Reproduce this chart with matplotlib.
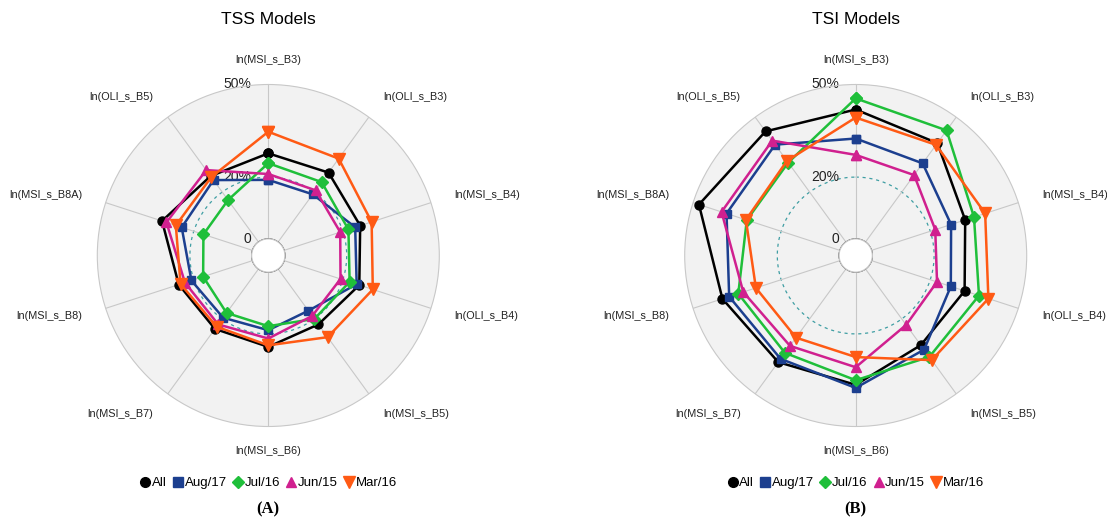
import numpy as np
import matplotlib
matplotlib.use("Agg")
import matplotlib.pyplot as plt
from matplotlib.lines import Line2D
from matplotlib.patches import Circle

# spoke labels, clockwise from the top
band_labels = ['ln(MSI_s_B3)', 'ln(OLI_s_B3)', 'ln(MSI_s_B4)', 'ln(OLI_s_B4)',
               'ln(MSI_s_B5)', 'ln(MSI_s_B6)', 'ln(MSI_s_B7)', 'ln(MSI_s_B8)',
               'ln(MSI_s_B8A)', 'ln(OLI_s_B5)']

series_names = ['All', 'Aug/17', 'Jul/16', 'Jun/15', 'Mar/16']

# TSS models (%)
tss_all = [27.7, 27.8, 25.9, 25.6, 22.2, 24.2, 24.0, 25.1, 30.8, 26.4]
tss_aug17 = [19.1, 19.1, 24.2, 24.7, 16.7, 18.8, 19.5, 20.8, 24.1, 24.8]
tss_jul16 = [24.5, 24.0, 21.9, 22.3, 20.0, 17.5, 17.6, 16.8, 16.7, 16.8]
tss_jun15 = [21.0, 20.7, 19.1, 19.2, 18.8, 21.5, 22.2, 23.0, 29.3, 28.8]
tss_mar16 = [34.7, 33.4, 29.8, 30.2, 27.3, 23.7, 23.1, 24.5, 26.1, 26.0]

# TSI models (%)
tsi_all = [41.9, 39.6, 31.9, 31.7, 30.5, 36.5, 37.3, 40.0, 48.0, 44.3]
tsi_aug17 = [32.5, 31.5, 27.1, 27.0, 32.3, 37.5, 36.0, 37.7, 38.6, 39.0]
tsi_jul16 = [45.5, 44.7, 34.9, 36.6, 35.2, 35.0, 33.6, 34.6, 31.7, 31.8]
tsi_jun15 = [27.2, 26.8, 21.7, 22.3, 22.4, 30.8, 30.8, 32.9, 40.3, 40.6]
tsi_mar16 = [39.3, 38.9, 38.7, 39.8, 36.5, 27.5, 27.5, 28.6, 32.0, 32.5]

colors = ['#000000', '#1c3f8f', '#1fbf3a', '#d0208f', '#ff5a14']
markers = ['o', 's', 'D', '^', 'v']
msizes = [6.5, 6.2, 6.0, 7.0, 8.0]

plt.rcParams['font.family'] = ['Liberation Sans', 'DejaVu Sans']

fig = plt.figure(figsize=(11.07, 5.21), dpi=100)

R_MAX = 50
R_ORIGIN = -5.4
GRID = '#c8c8c8'
n = len(band_labels)
theta = np.arange(n) * 2 * np.pi / n


def radar(rect, title, data, tag):
    ax = fig.add_axes(rect, projection='polar')
    ax.set_theta_zero_location('N')
    ax.set_theta_direction(-1)
    ax.set_ylim(0, R_MAX)
    ax.set_rorigin(R_ORIGIN)
    ax.set_facecolor('#f2f2f2')
    ax.spines['polar'].set_color(GRID)
    ax.spines['polar'].set_linewidth(0.8)
    ax.spines['inner'].set_visible(False)

    ax.set_xticks(theta)
    ax.set_xticklabels([])
    ax.set_yticks([])
    ax.xaxis.grid(True, color=GRID, linewidth=0.8)
    ax.yaxis.grid(False)

    # hollow centre at the zero ring
    hole = 0.5 * (0 - R_ORIGIN) / (R_MAX - R_ORIGIN)
    ax.add_patch(Circle((0.5, 0.5), hole, transform=ax.transAxes,
                        facecolor='white', edgecolor=GRID, lw=0.9,
                        zorder=2.6, clip_on=False))

    ring = np.linspace(0, 2 * np.pi, 361)
    ax.plot(ring, np.full_like(ring, 20), color='#3f9ea3', lw=0.9,
            ls=(0, (2.5, 3)), zorder=1)

    for val, txt in [(50, '50%'), (20, '20%'), (0, '0')]:
        ax.annotate(txt, xy=(0, val), xytext=(-12, 0), textcoords='offset points',
                    ha='right', va='center', fontsize=10, color='#222222',
                    zorder=2)

    for i, lab in enumerate(band_labels):
        ang = theta[i]
        s = np.sin(ang)
        if abs(s) < 1e-6:
            ha = 'center'
        elif s > 0:
            ha = 'left'
        else:
            ha = 'right'
        ax.text(ang, 58.0, lab, ha=ha, va='center', fontsize=7.8,
                color='#222222', clip_on=False)

    tc = np.append(theta, theta[0])
    for vals, c, m, ms in zip(data, colors, markers, msizes):
        v = np.append(vals, vals[0])
        ax.plot(tc, v, color=c, lw=1.8, marker=m, markersize=ms,
                markeredgecolor=c, zorder=3, clip_on=False)

    cx = rect[0] + rect[2] / 2
    fig.text(cx, 1 - 20 / 521, title, ha='center', va='center', fontsize=12.5)

    handles = [Line2D([], [], ls='none', marker=m, color=c, markersize=ms + 0.5)
               for c, m, ms in zip(colors, markers, msizes)]
    fig.legend(handles, series_names, loc='center', ncol=5,
               bbox_to_anchor=(cx, 1 - 483 / 521), frameon=False,
               fontsize=9.5, handlelength=0.8, handletextpad=0.1,
               columnspacing=0.45, borderaxespad=0)
    fig.text(cx, 1 - 509 / 521, tag, ha='center', va='center', fontsize=12,
             fontweight='bold', family='Liberation Serif')
    return ax


W, H = 1107, 521
RAD = 171
for cx_px, title, data, tag in [
        (268.3, 'TSS Models', [tss_all, tss_aug17, tss_jul16, tss_jun15, tss_mar16], '(A)'),
        (855.7, 'TSI Models', [tsi_all, tsi_aug17, tsi_jul16, tsi_jun15, tsi_mar16], '(B)')]:
    cy_px = 255.5
    rect = [(cx_px - RAD) / W, (H - cy_px - RAD) / H, 2 * RAD / W, 2 * RAD / H]
    radar(rect, title, data, tag)

fig.savefig('out.png', dpi=100)
